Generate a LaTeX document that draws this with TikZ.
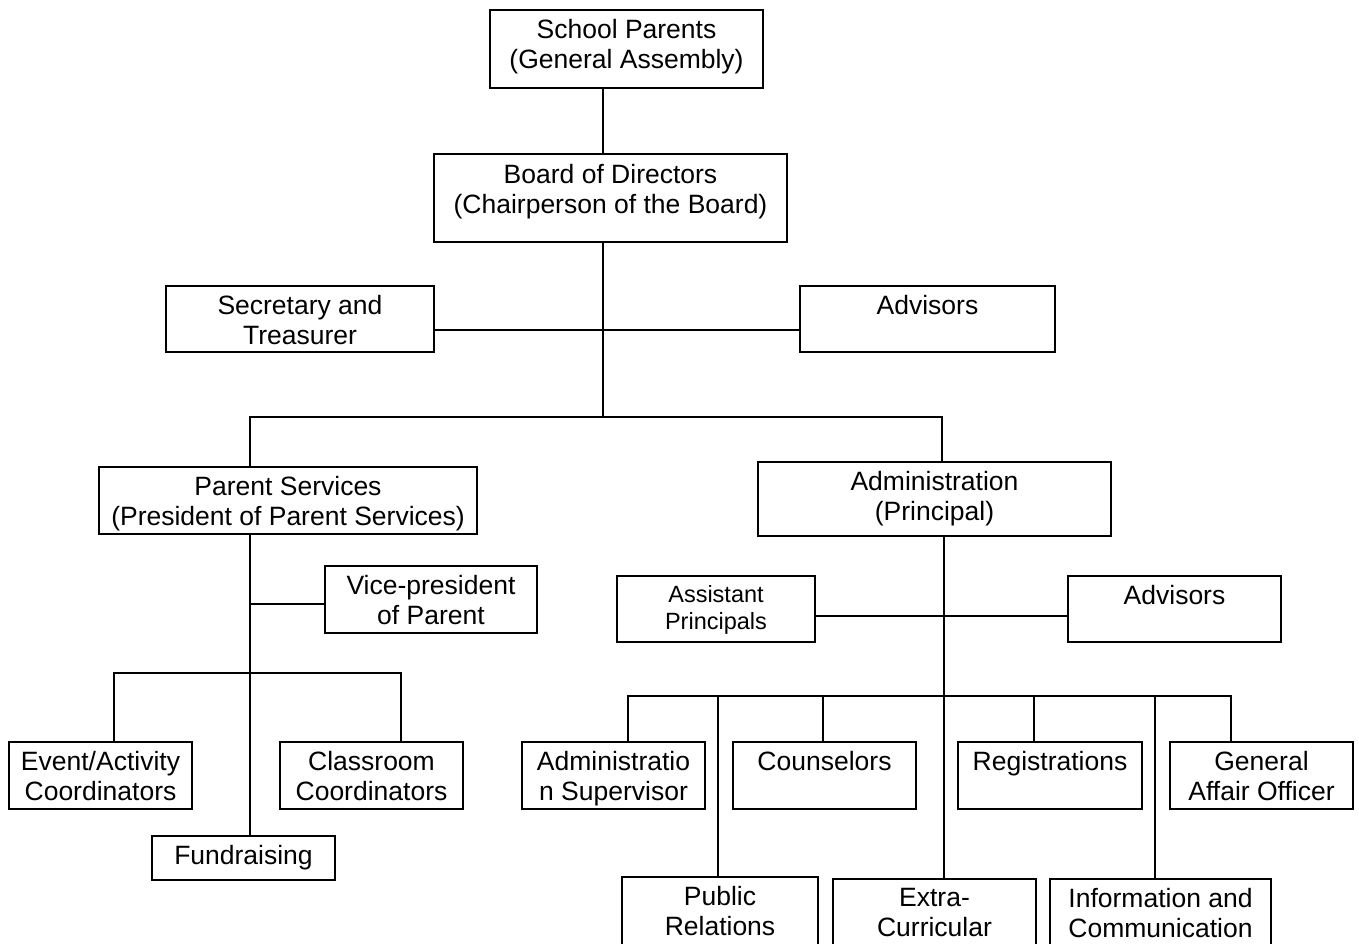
\documentclass[tikz,border=0pt]{standalone}
\usepackage{fontspec}
\setmainfont{Liberation Sans}
\begin{document}
\begin{tikzpicture}[x=1pt,y=-1pt,
  box/.style={draw, line width=2pt, rectangle, inner sep=0pt},
  txt/.style={anchor=north, inner sep=0pt, align=center, font=\fontsize{26.5}{30}\selectfont},
  stxt/.style={anchor=north, inner sep=0pt, align=center, font=\fontsize{23.5}{27}\selectfont},
  conn/.style={line width=2pt, line cap=rect}
]
\useasboundingbox (0,0) rectangle (1359,944);
\clip (0,0) rectangle (1359,944);

% boxes
\node[box, minimum width=273pt, minimum height=78pt] (sp) at (626.5,49) {};
\node[box, minimum width=353pt, minimum height=88pt] (bd) at (610.5,198) {};
\node[box, minimum width=268pt, minimum height=66pt] (st) at (300,319) {};
\node[box, minimum width=255pt, minimum height=66pt] (adv1) at (927.5,319) {};
\node[box, minimum width=378pt, minimum height=67pt] (ps) at (288,500.5) {};
\node[box, minimum width=353pt, minimum height=74pt] (adm) at (934.5,499) {};
\node[box, minimum width=212pt, minimum height=67pt] (vp) at (431,599.5) {};
\node[box, minimum width=183pt, minimum height=67pt] (ev) at (100.5,775.5) {};
\node[box, minimum width=183pt, minimum height=67pt] (cl) at (371.5,775.5) {};
\node[box, minimum width=183pt, minimum height=44pt] (fr) at (243.5,858) {};
\node[box, minimum width=198pt, minimum height=66pt] (ap) at (716,609) {};
\node[box, minimum width=213pt, minimum height=66pt] (adv2) at (1174.5,609) {};
\node[box, minimum width=183pt, minimum height=67pt] (as) at (613.5,775.5) {};
\node[box, minimum width=183pt, minimum height=67pt] (co) at (824.5,775.5) {};
\node[box, minimum width=184pt, minimum height=67pt] (rg) at (1050,775.5) {};
\node[box, minimum width=183pt, minimum height=67pt] (ga) at (1261.5,775.5) {};
\node[box, minimum width=196pt, minimum height=80pt] (pr) at (720,917) {};
\node[box, minimum width=203pt, minimum height=80pt] (ec) at (934.5,919) {};
\node[box, minimum width=221pt, minimum height=80pt] (ic) at (1160.5,919) {};

% texts
\node[txt] (tsp) at (626.5,19.5) {School Parents\\(General Assembly)};
\node[txt] (tbd) at (610.5,164) {Board of Directors\\(Chairperson of the Board)};
\node[txt] (tst) at (300,295.5) {Secretary and\\Treasurer};
\node[txt] (tadv1) at (927.5,295.5) {Advisors};
\node[txt] (tps) at (288,476.5) {Parent Services\\(President of Parent Services)};
\node[txt] (tadm) at (934.5,471.5) {Administration\\(Principal)};
\node[txt] (tvp) at (431,575.5) {Vice-president\\of Parent};
\node[txt] (tev) at (100.5,751.5) {Event/Activity\\Coordinators};
\node[txt] (tcl) at (371.5,751.5) {Classroom\\Coordinators};
\node[txt] (tfr) at (243.5,845.5) {Fundraising};
\node[stxt] (tap) at (716,585.5) {Assistant\\Principals};
\node[txt] (tadv2) at (1174.5,585.5) {Advisors};
\node[txt] (tas) at (613.5,751.5) {Administratio\\n Supervisor};
\node[txt] (tco) at (824.5,751.5) {Counselors};
\node[txt] (trg) at (1050,751.5) {Registrations};
\node[txt] (tga) at (1261.5,751.5) {General\\Affair Officer};
\node[txt] (tpr) at (720,886.5) {Public\\Relations};
\node[txt] (tec) at (934.5,888.5) {Extra-\\Curricular};
\node[txt] (tic) at (1160.5,888.5) {Information and\\Communication};

% junction coordinates
\coordinate (tx) at (603,417);
\coordinate (h1) at (603,330);
\coordinate (busL) at (250,417);
\coordinate (busR) at (942,417);
\coordinate (vpj) at (250,604);
\coordinate (pbL) at (114,673);
\coordinate (pbR) at (401,673);
\coordinate (ax) at (944,616);
\coordinate (abL) at (628,696);
\coordinate (abR) at (1231,696);
\coordinate (b2) at (718,696);
\coordinate (b3) at (823,696);
\coordinate (b5) at (1034,696);
\coordinate (b6) at (1155,696);

% connectors
\draw[conn] (sp.south -| tx) -- (bd.north -| tx);
\draw[conn] (bd.south -| tx) -- (tx);
\draw[conn] (st.east |- h1) -- (adv1.west |- h1);
\draw[conn] (ps.north -| busL) -- (busL) -- (busR) -- (adm.north -| busR);
\draw[conn] (ps.south -| busL) -- (fr.north -| busL);
\draw[conn] (vpj) -- (vp.west |- vpj);
\draw[conn] (ev.north -| pbL) -- (pbL) -- (pbR) -- (cl.north -| pbR);
\draw[conn] (ap.east |- ax) -- (adv2.west |- ax);
\draw[conn] (adm.south -| ax) -- (ec.north -| ax);
\draw[conn] (as.north -| abL) -- (abL) -- (abR) -- (ga.north -| abR);
\draw[conn] (b2) -- (pr.north -| b2);
\draw[conn] (b3) -- (co.north -| b3);
\draw[conn] (b5) -- (rg.north -| b5);
\draw[conn] (b6) -- (ic.north -| b6);
\end{tikzpicture}
\end{document}
